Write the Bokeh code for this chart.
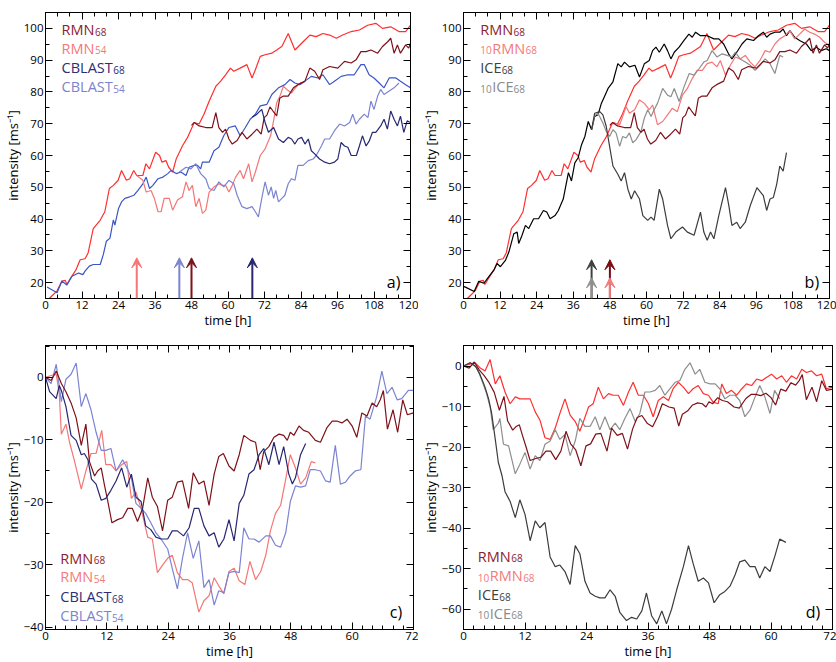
import numpy as np
from bokeh.plotting import figure
from bokeh.models import (Range1d, FixedTicker, LinearAxis, Label, Arrow, VeeHead)
from bokeh.layouts import column, row
from bokeh.embed import file_html
from bokeh.resources import INLINE

# ---------------- data ----------------
# panel a / b : absolute intensity [m/s] vs time [h]
rmn_ctrl = [(0,14.2),(1.6,15.3),(3.8,17.4),(5.4,20.5),(6.5,20.7),(7,19.4),(8,21),(10,24),(11.4,27.2),(13,27.5),
            (14,29.3),(15.7,37),(18,39.7),(19.5,42.3),(21,49.6),(22.3,50.6),(23.9,52.2),(25,55.3),(26.6,52.2),(27.7,52.7),
            (29,55.3),(30,53.7),(32,53.7),(33,57.4),(34.2,55.8),(36.2,61),(37.5,60),(38.3,57.9),(39.6,58.4),(40.5,56.3),
            (41.8,54.8),(43,59),(45,63),(46.7,65.7),(48.9,70.4),(50.5,69.9),(52.1,73),(53.8,77.1),(56,81.8),(57.6,83.4),
            (59.2,85.4),(60.8,87.5),(61.9,86.5),(64,87.5),(66.2,88.6),(67.9,84.4),(69,87),(70.6,91.2),(72.2,91.7),(74.4,92.2),
            (76,93.2),(77.7,94.3),(79.8,98.4),(82,93.2),(84.7,95.8),(86.9,97.9),(89,97.4),(91.2,98.4),(93.4,97.9),(95.6,96.9),
            (97.7,97.9),(100.5,99),(103.2,99.5),(105.9,101),(108.6,101.6),(110.8,100),(113.5,100.5),(116.2,99),(118.4,99),(120,101)]
cblast_ctrl = [(0.5,18.6),(3.8,16.8),(5.4,20.5),(7,19.2),(8.7,22),(10.9,23),(12.3,22.5),(13,23.6),(14.4,25.2),(15.7,25.7),
               (18,25.7),(19,28.8),(20,33),(21.2,34),(22.3,39.7),(22.8,38.1),(24,43.3),(25,45.4),(26.1,46.5),(27.7,47),
               (29.1,47.5),(30.4,49),(32,51.1),(33.1,53.2),(34.2,49.6),(35.3,50.6),(37,52.7),(38.6,53.2),(40.2,54.3),(41.3,55.3),
               (43,54.3),(44.5,54.8),(46.2,53.7),(47.2,56.3),(48.9,56.9),(50,56.9),(51,55.8),(51.6,57.9),(53.8,57.9),(55.4,61.5),
               (57,62.6),(58.6,66.2),(60.3,68.8),(62.4,69.3),(64,66.2),(65.7,68.8),(67.3,71.4),(69,73),(70.6,75.6),(72.8,76.1),
               (74.4,79.2),(76.6,81.3),(78.7,82.3),(80.4,83.9),(82,82.8),(83.6,82.3),(85.3,83.4),(87.4,84.9),(89.6,84.4),(91.2,85.4),
               (93.4,82.3),(95,83.4),(97.2,84.9),(99.4,85.4),(101.5,85.4),(103.7,88.6),(104.8,88.6),(106.4,85.4),(108,84.4),(109.7,82.8),
               (111.3,81.3),(113,84.4),(115.2,84.4),(116.7,83.4),(118.4,82.3),(120,81.3)]
rmn68 = [(48,69.5),(48.9,70.4),(50.5,69.3),(52.7,68.8),(54.8,68.8),(56,73.5),(57,68.8),(58.2,67.3),(59.2,68.3),(60.3,65.2),
         (61.4,63.6),(63,64.7),(64.6,67.3),(66.2,65.2),(67.9,66.7),(69.5,68.3),(70.9,66.7),(71.9,71.9),(72.8,72.7),(73.8,75.3),
         (74.8,74),(76,72.5),(77,78),(78.2,78.7),(79.8,78.7),(81.5,81.3),(83,82.3),(85.3,83.4),(86.9,87.5),(88.5,86.5),
         (90.1,83.9),(91.2,87),(93.4,88),(96.1,87.5),(98.3,89.6),(100.5,89.1),(102.1,90.1),(103.7,92.7),(105.4,92.7),(107,93.2),
         (109.2,92.2),(110.8,94.3),(112.5,95.8),(113.5,96.9),(114.6,92.2),(115.7,94.8),(116.7,92.2),(118.4,94.8),(119.4,93.8),(120,95.3)]
rmn54 = [(30,53.7),(32,52.2),(33.1,48.5),(34.7,49),(35.8,46.5),(37,42.3),(38,42.3),(39,46.5),(40.7,46.5),(41.8,42.8),
         (43.4,46),(45,47),(46.2,51.7),(47.2,49),(48.3,50.6),(49.4,43.9),(50.5,46.5),(51.6,41.8),(52.7,42.8),(53.8,48.5),
         (55.4,50.1),(57,51.1),(58.2,50.6),(59.2,50.6),(60.3,48.5),(61.4,50.6),(62.5,53.2),(64,55.3),(65.1,52.7),(66.8,57.4),
         (67.9,51.7),(69,54.8),(70.6,60),(72.2,62.1),(74,66.2),(75,71),(76,76.6),(77.1,78.7),(78.2,81.8),(79.3,80.8),
         (80.9,79.7),(82.6,81.8),(84,83)]
cblast68 = [(68,72),(69.5,73),(71.1,74.5),(72.2,70.4),(73.3,67.3),(75,68.8),(76.6,65.2),(78.2,64.1),(79.8,65.7),(80.9,65.2),
            (82,63.6),(83,65.2),(84.2,65.7),(85.3,63.6),(86.4,65.2),(87.4,61.5),(88.5,60.5),(90.1,58.9),(91.8,57.9),(93.4,57.4),
            (95,57.9),(96.1,58.9),(97.2,64.1),(98.3,63),(99.4,62.6),(100.5,60),(102.2,60),(103.2,63),(104.2,66.2),(105.4,63),
            (106.5,64.7),(107.5,67.3),(108.6,67.3),(110.2,69.3),(111.3,71.4),(112.4,68.3),(113.5,74),(114.6,71.4),(115.7,69.3),
            (116.7,72.4),(117.8,67.3),(118.9,70.9),(120,70.4)]
cblast54 = [(44,54.8),(46.2,56.3),(47.8,55.8),(49.4,57.4),(51,54.3),(52.7,52.7),(53.8,49.6),(55.4,49),(57,51.7),(58.6,50.1),
            (60.3,52.2),(61.9,51.1),(63,47.5),(64.6,43.9),(66.2,43.3),(67.9,43.9),(69,42.3),(70,40.7),(71.1,46.5),(72.2,51.7),
            (73.3,47.5),(74.2,50.1),(75,46.5),(75.7,49),(76.6,45.4),(77.7,46.5),(78.7,47.5),(79.8,51.1),(80.9,52.7),(82,52.2),
            (83,56.9),(84.7,56.9),(86.4,58.4),(88,58.9),(89,60),(90.7,63),(91.8,65.2),(93.4,65.2),(95,67.8),(96.7,69.9),
            (98.3,69.3),(100,70.4),(101,73),(102.1,69.9),(103.2,71.4),(104.8,73),(106,71.9),(107,77.1),(108,74.5),(109.2,78.7),
            (110.2,80.8),(111.3,79.2),(113,80.3),(114.6,81.3),(116.2,82.8)]
ice_ctrl = [(0,18.8),(0.8,18.5),(3.5,17.2),(5,20.4),(6.7,19.8),(8.3,21.9),(10,24),(11,26),(12.1,25),(13.8,27.1),
            (14.9,29.7),(16.5,35.4),(17.6,35.9),(18.1,32.3),(19.2,34.9),(20.3,38),(21.4,37),(23,40.1),(24.6,40.1),(26.2,42.7),
            (27.3,42.2),(28.4,40.1),(30,41.1),(31.1,42.7),(32.7,46.3),(34.4,54.6),(35.4,52),(36.5,57.7),(37.6,59.3),(38.7,63.4),
            (39.8,66),(40.9,70.7),(42,68.1),(43,72.3),(44.1,72.8),(45.2,76.4),(47.4,81.1),(49,83.2),(50.6,88.9),(51.7,87.9),
            (52.8,89.4),(54.4,87.9),(56.2,88.4),(57.7,84.7),(59.3,88.9),(60.9,89.9),(62,93),(63.1,94.1),(64.2,92.5),(65.8,95.1),
            (66.9,93),(68,90.4),(69.1,92.5),(70.7,94.1),(72.3,96.2),(73.9,98.2),(75,97.2),(76.1,98.8),(77.7,97.7),(79.9,97.7),
            (82.1,96.7),(83.7,96.7),(85.3,95.1),(86.9,92),(88,90.4),(89.6,92.5),(91.3,95.1),(92.9,96.7),(95.1,96.2),(96.7,97.7),
            (98.3,98.8),(99.4,97.2),(100.5,98.2),(102.1,98.8),(103.7,98.8),(104.8,99.8),(105.9,97.7),(107,99.3),(108.6,97.2),
            (110.2,96.2),(112.4,95.1),(114,93),(115.7,94.1),(117.3,93),(118.9,93.6),(120,93)]
ice68 = [(42,68.1),(43,73.3),(44.7,73.8),(45.7,72.8),(46.8,69.2),(47.9,62.9),(49,56.7),(50.6,54.1),(51.7,52),(52.8,54.6),
         (53.9,49.4),(55,46.3),(56.1,48.9),(57.7,46.3),(58.8,41.1),(60.4,39.6),(61.5,40.6),(62.5,39.6),(64.2,49.4),(65.3,46.3),
         (66.9,38),(68,33.8),(69.6,35.9),(71.8,37.5),(73.4,35.9),(75.6,34.9),(77.7,42.2),(78.8,35.9),(79.9,33.3),(81,35.9),
         (82.1,33.8),(83.7,41.1),(85.9,49.9),(87,44.2),(88,38),(89.6,39),(90.7,37),(92.4,39),(94,44.2),(96.2,49.9),
         (98.3,47.4),(99.4,42.7),(100.5,46.3),(101.6,46.8),(102.7,51),(103.7,56.7),(104.8,55.1),(105.9,60.9)]
ice10 = [(42,68.1),(43,72.5),(44.1,73.3),(45.7,70.2),(46.8,67.6),(47.9,66),(49,68.1),(50,67.1),(51.2,62.9),(52.2,66),
         (53.3,65.5),(54.4,67.1),(55.5,64),(56.6,65),(58.2,67.6),(59.3,71.8),(60.4,74.4),(61.5,72.3),(62.5,74.4),(63.6,76.4),
         (65.3,81.1),(66.9,79),(68,78.5),(69.1,81.1),(70.7,77),(72.3,81.6),(74,85.8),(75.6,85.3),(77.2,87.3),(78.8,89.4),
         (79.9,89.9),(81.5,93),(83.1,91),(84.8,92),(86.4,91.5),(88,91),(89.1,92.5),(90.7,90.4),(92.4,89.4),(94,88.4),
         (95.6,86.8),(97.2,88.4),(98.9,90.4),(100.5,88.9),(102.1,85.8),(103.7,91.5),(104.8,91)]
rmn10 = [(48,69.5),(49.5,70.2),(51.2,69.7),(52.2,72.3),(53.3,75.4),(54.4,73.3),(56.1,74.4),(57.7,77.5),(59.3,76.4),(60.9,74.4),
         (62,75.9),(63.6,69.7),(65.3,70.7),(66.9,72.8),(68.5,74.9),(70.1,73.8),(71.8,79),(73.4,81.1),(75,84.2),(76.6,86.8),
         (78.3,86.8),(79.9,88.9),(81.5,89.4),(83.1,87.9),(84.2,89.9),(85.9,85.3),(87.5,88.4),(89.1,91),(90.7,90.4),(92.4,91.5),
         (94,89.4),(95.6,87.9),(97.2,89.9),(98.9,93),(100.5,92.5),(102.1,95.1),(103.7,96.7),(105.4,97.7),(107,99.3),(108.6,96.7),
         (110.2,98.2),(111.9,99.8),(113.5,98.8),(115.1,98.2),(116.8,97.2),(118.4,95.6),(120,94.6)]

# panel c / d : intensity difference [m/s] vs time after branching [h]
rmn68_diff = [(0,0),(1.1,-0.5),(2.1,1),(3.1,-1),(4,-2.3),(5,-4.1),(6,-6.5),(7,-10.9),(7.9,-7.5),(8.6,-13.5),
              (9.6,-15.8),(10.2,-15),(10.9,-14.5),(11.5,-17.1),(12.2,-19.9),(13,-23.3),(14.1,-22.8),(15.1,-22.5),(16.1,-21),(17,-21),
              (18,-23.1),(19,-21),(20,-16.1),(20.9,-19.2),(21.9,-20.7),(22.9,-24.6),(23.9,-19.7),(24.8,-19.2),(25.8,-16.8),(26.8,-16.6),
              (28,-21),(28.9,-15.3),(30,-17.1),(31,-16.6),(32,-20.5),(33,-15.5),(33.9,-12.7),(34.8,-12.2),(35.9,-14.2),(36.9,-15),
              (37.9,-12.4),(38.8,-9.3),(40.1,-10.1),(41.1,-10.4),(42,-14.8),(42.7,-11.9),(43.7,-11.1),(44.7,-9.6),(45.7,-9.1),(46.6,-9.3),
              (47.3,-10.1),(47.9,-8.8),(48.6,-9.3),(49.6,-7.8),(50.5,-8.5),(51.5,-8.8),(52.8,-10.1),(53.8,-10.4),(55.1,-8),(56.1,-7),
              (57,-7),(58,-7.3),(59,-6.7),(60,-7.8),(60.9,-9.6),(61.9,-5.7),(62.9,-6.2),(63.9,-4.1),(64.8,-4.7),(65.5,-3.6),
              (66.1,-2.1),(66.9,-8.3),(68,-5.2),(68.9,-8.8),(69.9,-3.6),(70.8,-6),(72,-5.7)]
rmn54_diff = [(0,0),(1.1,0.3),(2.1,0.5),(2.7,-2.6),(3.1,-9.1),(4,-7.5),(4.7,-10.4),(5.7,-13.5),(7,-17.9),(7.9,-15),
              (8.9,-12.2),(9.9,-12.2),(11,-8.5),(11.8,-14),(12.8,-14),(13.8,-15),(14.9,-14),(15.9,-13.5),(16.8,-19.4),(17.7,-18.4),
              (18.7,-21),(20,-25.6),(20.9,-25.9),(21.9,-31.3),(22.9,-30.1),(23.9,-29),(24.8,-28.5),(25.8,-31.3),(26.8,-32.4),(27.8,-32.4),
              (28.7,-32.9),(30,-37.6),(31,-35.8),(32,-35),(33,-32.1),(33.9,-33.4),(34.9,-34.7),(35.9,-31.1),(36.9,-30.6),(37.9,-32.6),
              (39,-33.2),(40,-29.5),(41.1,-32.4),(42.1,-31.1),(43.1,-28.5),(44,-24.6),(45,-21.8),(46,-20.5),(47,-16.3),(47.9,-12.4),
              (48.9,-14.5),(49.9,-17.1),(50.9,-16.1),(52,-13.5),(52.8,-13.7)]
cblast68_diff = [(0,0),(0.8,-2.3),(2.1,-3.4),(2.7,-1.3),(3.1,-2.1),(4,-4.7),(5,-9.3),(6,-10.1),(7,-12.4),(7.6,-12.2),
                 (8.3,-13.2),(9,-16.3),(9.9,-17.1),(10.9,-19.7),(11.8,-19.4),(12.8,-18.1),(13.8,-16.6),(14.9,-14.5),(15.9,-17.6),(16.8,-15.5),
                 (17.7,-19.2),(18.7,-19.9),(19.6,-23.8),(20.6,-24.4),(21.6,-25.6),(22.6,-25.9),(23.9,-25.9),(24.8,-24.6),(25.8,-24.6),(27,-25.4),
                 (28.1,-24.1),(29.1,-21),(30,-21),(31,-23.8),(32,-25.4),(33,-24.9),(33.9,-27.2),(34.9,-25.9),(35.9,-22.8),(36.9,-26.2),
                 (37.9,-20.2),(38.8,-18.9),(39.8,-15.5),(40.8,-14.8),(41.8,-12.4),(42.7,-11.4),(43.7,-14),(44.7,-10.4),(45.7,-14),(46.6,-11.1),
                 (47.6,-15.5),(48.3,-17.1),(48.9,-16.1),(49.9,-12.4),(50.9,-10.6)]
cblast54_diff = [(0,0),(1.1,-1),(2.1,2.1),(3.1,-3.9),(4,-0.3),(5,0.5),(6,2.3),(7,-4.7),(7.9,-2.6),(8.9,-5.2),
                 (9.9,-8.8),(10.9,-11.7),(11.8,-11.7),(12.8,-11.4),(13.8,-15),(15.1,-13.2),(16.1,-14.8),(16.8,-16.1),(17.7,-20.2),(18.7,-21),
                 (19.6,-21.8),(20.6,-23.3),(21.6,-24.9),(22.6,-25.9),(23.9,-27.5),(24.8,-30.6),(25.8,-33.9),(26.8,-29),(27.8,-24.9),(28.9,-29),
                 (30,-26.2),(31,-33.7),(32,-32.4),(33,-36.5),(33.9,-34.2),(34.9,-34.5),(35.9,-31.3),(36.9,-31.1),(37.9,-31.3),(38.8,-24.1),
                 (39.8,-25.9),(40.8,-25.9),(41.8,-26.4),(43.1,-25.4),(44,-25.4),(45,-26.9),(46,-27.2),(47,-24.9),(47.9,-19.9),(48.9,-17.4),
                 (49.9,-17.6),(50.9,-17.4),(51.8,-14.8),(52.8,-14.8),(53.8,-15),(54.8,-16.6),(55.7,-16.8),(56.7,-10.9),(57.7,-17.1),(58.7,-16.8),
                 (59.6,-15.8),(60.6,-15),(61.7,-14.8),(62.6,-6.2),(63.5,-6.7),(64.8,-3.1),(65.8,1),(66.8,-2.6),(67.8,-1.6),(68.8,-3.6),
                 (69.7,-3.4),(71,-2.1),(72,-2.1)]
rmn10_diff = [(0,0),(1,0.4),(2.3,0.8),(3.2,-0.4),(4.2,-1.2),(5.2,1.6),(6.2,-4.4),(7.1,-2.4),(8.1,-6.4),(9.1,-9.3),
              (10.1,-7.6),(11,-8.1),(13,-8.1),(14,-11.3),(14.9,-13.3),(15.9,-17.7),(16.9,-18.1),(17.9,-15.3),(18.8,-11.7),(19.8,-8.1),
              (20.8,-12.1),(21.8,-13.7),(22.7,-16.1),(23.4,-13.7),(24.4,-10.1),(25.3,-9.3),(26.3,-5.2),(27.3,-8.1),(28.3,-6.8),(29.2,-7.2),
              (30.2,-7.2),(31.2,-9.7),(32.2,-6.4),(33.1,-4),(34.1,-7.2),(35.1,-7.2),(36.1,-9.3),(37,-12.5),(38,-8.5),(39,-7.6),
              (40,-8.5),(40.9,-5.6),(41.9,-4),(42.9,-5.2),(43.9,-6.8),(44.8,-5.6),(45.8,-4.8),(46.8,-6.8),(47.8,-7.2),(48.7,-8.9),
              (49.7,-9.3),(50.4,-4.4),(51.3,-6.8),(52.3,-6),(53.3,-7.2),(54.3,-5.6),(55.2,-4.4),(56.2,-4.8),(57.2,-3.2),(58.2,-3.6),
              (59.1,-2.8),(60.1,-2),(61.1,-3.2),(62.1,-2.4),(63,-4),(64,-2.4),(65,-3.2),(66,-0.8),(66.9,-1.6),(67.9,-1.2),
              (68.9,-2.4),(69.9,-2),(70.8,-5.6),(72,-5.2)]
ice68_diff = [(0,0),(1.3,0.8),(2.3,0),(3.2,-2),(4.2,-5.2),(4.9,-8.1),(5.5,-11.7),(6.2,-18.1),(6.8,-23.8),(7.5,-27),
              (8.1,-31),(9.1,-33.4),(10.1,-37.4),(11,-33),(12,-36.6),(13,-43.1),(14,-38.2),(14.9,-39.9),(15.9,-38.6),(16.9,-47.1),
              (17.9,-49.5),(18.8,-49.1),(19.8,-50.7),(20.8,-53.9),(21.8,-44.3),(22.7,-46.3),(23.7,-53.1),(24.7,-56),(25.7,-56.8),(26.6,-57.2),
              (27.6,-57.2),(28.6,-55.2),(29.6,-56.8),(30.5,-60.8),(31.8,-62.8),(32.8,-62),(33.8,-62.4),(34.8,-60.4),(35.7,-56),(36.7,-61.6),
              (37.7,-63.6),(38.7,-60.4),(39.6,-63.6),(40.6,-60),(41.6,-55.2),(42.9,-49.5),(43.9,-44.3),(44.8,-48.7),(45.8,-53.1),(46.8,-52.3),
              (47.8,-53.5),(48.9,-58.4),(50,-56.4),(51,-55.6),(52,-54.3),(53,-51.5),(53.9,-48.3),(54.9,-47.9),(55.9,-49.5),(56.9,-49.5),
              (57.8,-52.3),(58.8,-49.5),(59.8,-50.7),(60.8,-46.7),(61.7,-42.7),(62.9,-43.5)]
ice10_diff = [(0,0),(1.3,0.8),(2.6,-0.4),(3.6,-3.6),(4.5,-6.8),(5.2,-10.1),(5.8,-15.7),(6.8,-14.1),(7.1,-12.9),(7.8,-19.3),
              (8.8,-19.7),(10.1,-26.6),(11,-24.2),(12,-21.3),(13,-25.4),(14,-22.1),(14.9,-23.3),(15.9,-19.3),(16.9,-18.5),(17.9,-15.7),
              (18.8,-18.1),(19.8,-16.9),(20.8,-22.1),(21.8,-18.5),(22.7,-12.9),(23.7,-14.9),(24.7,-14.9),(25.7,-12.5),(26.6,-15.7),(27.6,-12.5),
              (28.6,-15.7),(29.6,-14.1),(30.5,-15.7),(31.5,-12.9),(32.5,-10.5),(33.5,-13.7),(34.4,-11.7),(35.4,-6.4),(36.4,-6.4),(37.4,-6),
              (38.3,-4.8),(39.3,-7.2),(40.3,-5.6),(41.3,-4),(42.2,-3.6),(43.2,-0.8),(44.2,0.8),(45.2,-2),(46.1,-0.8),(47.1,-4),
              (48.1,-4.4),(49.1,-4.4),(50,-5.6),(51,-8.1),(52,-7.2),(53,-7.2),(53.9,-8.5),(54.9,-12.5),(55.9,-10.9),(56.9,-7.6),
              (57.8,-4.8),(58.8,-7.6),(59.8,-11.7),(60.7,-6),(61.7,-8.1)]

# branching times (arrows) and tick labels
branch_a = [30, 44, 48, 68]
branch_b = [42, 48]
xticks_ab = [0, 12, 24, 36, 48, 60, 72, 84, 96, 108, 120]
yticks_ab = [20, 30, 40, 50, 60, 70, 80, 90, 100]
xticks_cd = [0, 12, 24, 36, 48, 60, 72]
yticks_c = [-40, -30, -20, -10, 0]
yticks_d = [-60, -50, -40, -30, -20, -10, 0]

# ---------------- styling ----------------
FONT = "Open Sans"
C_RED = "#ff2f2f"
C_DKRED = "#7e1119"
C_PINK = "#f47676"
C_NAVY = "#272772"
C_BLUE = "#3a55c6"
C_LTBLUE = "#7c84d2"
C_BLACK = "#000000"
C_DKGRAY = "#3c3c3c"
C_GRAY = "#8e8e8e"

CW = {'R': .631, 'M': .89, 'N': .758, 'C': .632, 'B': .642, 'L': .539, 'A': .633, 'S': .547,
      'T': .552, 'I': .274, 'E': .547}


def txt_w(s, size):
    return sum(CW.get(ch, .572) for ch in s) * size


def fmt(v):
    return ("\u2212" + str(-v)) if v < 0 else str(v)


def style_axis(ax, ticks, minor, labels=True):
    ax.ticker = FixedTicker(ticks=ticks, minor_ticks=minor)
    ax.major_tick_in = 7
    ax.major_tick_out = 0
    ax.minor_tick_in = 4
    ax.minor_tick_out = 0
    ax.axis_line_color = "black"
    ax.major_tick_line_color = "black"
    ax.minor_tick_line_color = "black"
    if labels:
        ax.major_label_text_font = FONT
        ax.major_label_text_font_size = "11.5px"
        ax.major_label_text_color = "black"
        ax.major_label_standoff = 2
        ax.major_label_overrides = {t: fmt(t) for t in ticks}
        ax.axis_label_text_font = FONT
        ax.axis_label_text_font_size = "13px"
        ax.axis_label_text_font_style = "normal"
        ax.axis_label_text_color = "black"
        ax.axis_label_standoff = -1
    else:
        ax.major_label_text_font_size = "1px"
        ax.major_label_text_color = None
        ax.major_label_text_alpha = 0
        ax.major_label_standoff = 0
        ax.axis_label = None


def panel(xr, yr, w, h, bl, br, bt, bb, xt, xstep, yt, ystep):
    p = figure(width=w, height=h, x_range=Range1d(*xr), y_range=Range1d(*yr),
               output_backend="svg", toolbar_location=None,
               min_border_left=bl, min_border_right=br, min_border_top=bt, min_border_bottom=bb,
               x_axis_label="time [h]", y_axis_label="intensity [ms\u207b\u00b9]")
    p.grid.visible = False
    p.outline_line_color = "black"
    p.background_fill_color = "white"
    p.border_fill_color = "white"
    xminor = list(np.arange(xr[0], xr[1] + 0.01, xstep))
    yminor = [v for v in np.arange(-100, 110, ystep) if yr[0] <= v <= yr[1]]
    style_axis(p.xaxis[0], xt, xminor)
    style_axis(p.yaxis[0], yt, yminor)
    top = LinearAxis()
    style_axis(top, xt, xminor, labels=False)
    p.add_layout(top, "above")
    right = LinearAxis()
    style_axis(right, yt, yminor, labels=False)
    p.add_layout(right, "right")
    return p


def line(p, data, color, width=1.2):
    t, v = zip(*data)
    p.line(list(t), list(v), line_color=color, line_width=width)


def legend(p, x, ys, entries):
    for y, (pre, main, suf, col) in zip(ys, entries):
        off = 0.0
        for s, size, yo in ((pre, 10, -0.3), (main, 14.5, -3.8), (suf, 10, -0.3)):
            if not s:
                continue
            p.add_layout(Label(x=x, y=y, x_offset=off, y_offset=yo, text=s,
                               text_font=FONT, text_font_size=f"{size}px", text_color=col,
                               text_baseline="bottom"))
            off += txt_w(s, size) + (0.5 if size == 10 else 0.3)


def tag(p, x, y, s):
    p.add_layout(Label(x=x, y=y, y_offset=-4, text=s, text_font=FONT, text_font_size="16px",
                       text_color="black", text_align="right", text_baseline="bottom"))


def arrow(p, x, y0, y1, col):
    p.add_layout(Arrow(end=VeeHead(size=10, fill_color=col, line_color=col, line_width=1),
                       x_start=x, y_start=y0, x_end=x, y_end=y1,
                       line_color=col, line_width=2))


# ---------------- panel a ----------------
pa = panel((0, 120), (15, 105), 418, 331, 42, 8, 12, 31, xticks_ab, 4, yticks_ab, 5)
line(pa, rmn_ctrl, C_RED)
line(pa, cblast_ctrl, C_BLUE)
line(pa, rmn54, C_PINK)
line(pa, cblast54, C_LTBLUE)
line(pa, rmn68, C_DKRED)
line(pa, cblast68, C_NAVY)
for t, c in zip(branch_a, [C_PINK, C_LTBLUE, C_DKRED, C_NAVY]):
    arrow(pa, t, 15, 27.8, c)
legend(pa, 5.3, [97.8, 91.9, 85.8, 79.8],
       [("", "RMN", "68", "#8c2230"), ("", "RMN", "54", "#f27a7a"),
        ("", "CBLAST", "68", "#2e2e72"), ("", "CBLAST", "54", "#7c82cc")])
tag(pa, 116.7, 18.1, "a)")

# ---------------- panel b ----------------
pb = panel((0, 120), (15, 105), 418, 331, 42, 7, 12, 31, xticks_ab, 4, yticks_ab, 5)
line(pb, rmn_ctrl, C_RED)
line(pb, ice_ctrl, C_BLACK)
line(pb, rmn10, C_PINK)
line(pb, ice10, C_GRAY)
line(pb, rmn68, C_DKRED)
line(pb, ice68, C_DKGRAY)
arrow(pb, branch_b[0], 15, 27.2, "#404040")
arrow(pb, branch_b[0], 15, 21.5, "#909090")
arrow(pb, branch_b[1], 15, 27.2, "#7a0c14")
arrow(pb, branch_b[1], 15, 21.5, "#f47c7c")
legend(pb, 5.5, [97.8, 91.9, 85.8, 79.8],
       [("", "RMN", "68", "#8c2230"), ("10", "RMN", "68", "#f27a7a"),
        ("", "ICE", "68", "#404040"), ("10", "ICE", "68", "#8a8a8a")])
tag(pb, 116.6, 18.1, "b)")

# ---------------- panel c ----------------
pc = panel((0, 72), (-40.4, 5.1), 418, 331, 44, 5, 14, 27, xticks_cd, 2, yticks_c, 5)
line(pc, rmn54_diff, C_PINK)
line(pc, cblast54_diff, C_LTBLUE)
line(pc, rmn68_diff, C_DKRED)
line(pc, cblast68_diff, C_NAVY)
legend(pc, 2.9, [-29.9, -32.9, -36.1, -39.1],
       [("", "RMN", "68", "#8c2230"), ("", "RMN", "54", "#f27a7a"),
        ("", "CBLAST", "68", "#2e2e72"), ("", "CBLAST", "54", "#7c82cc")])
tag(pc, 69.8, -38.7, "c)")

# ---------------- panel d ----------------
pd = panel((0, 72), (-65, 5.07), 418, 331, 45, 4, 14, 27, xticks_cd, 2, yticks_d, 5)
line(pd, rmn10_diff, C_RED)
line(pd, ice10_diff, C_GRAY)
line(pd, rmn68_diff, C_DKRED)
line(pd, ice68_diff, C_DKGRAY)
legend(pd, 2.8, [-48.3, -53.2, -57.8, -62.4],
       [("", "RMN", "68", "#8c2230"), ("10", "RMN", "68", "#f27a7a"),
        ("", "ICE", "68", "#404040"), ("10", "ICE", "68", "#8a8a8a")])
tag(pd, 69.6, -62.3, "d)")

layout = column(row(pa, pb), row(pc, pd))
open("out.html", "w").write(file_html(layout, INLINE))
